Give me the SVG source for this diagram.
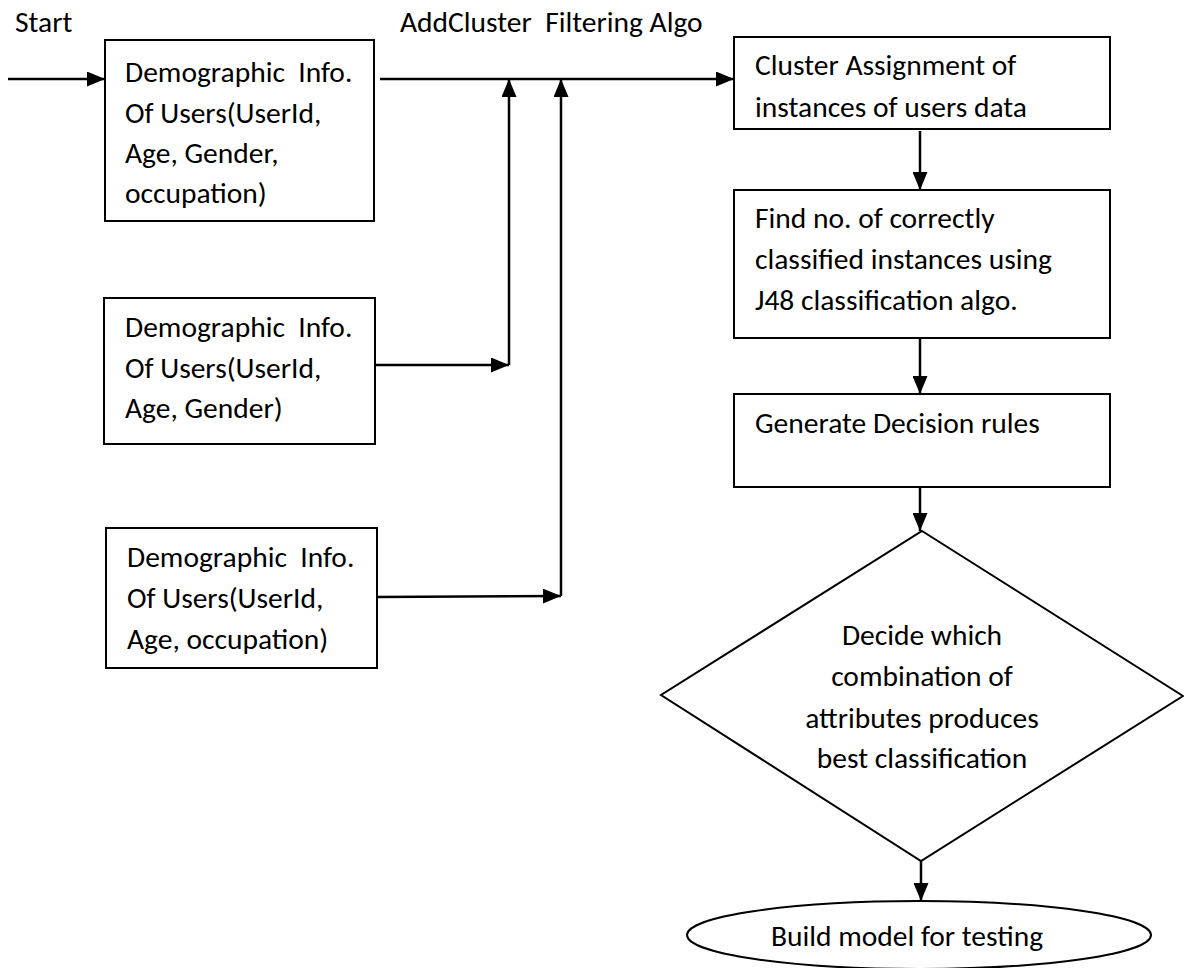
<svg xmlns="http://www.w3.org/2000/svg" width="1184" height="968" viewBox="0 0 1184 968">
<style>
text{font-family:Carlito,Lato,"Open Sans",sans-serif;font-size:29.5px;fill:#000}
.box{fill:#fff;stroke:#000;stroke-width:2}
.c{fill:none;stroke:#000;stroke-width:2.5}
.m{text-anchor:middle}
</style>
<defs>
<marker id="ah" markerUnits="userSpaceOnUse" markerWidth="18" markerHeight="15" refX="18" refY="7.5" orient="auto">
<path d="M0,0 L18,7.5 L0,15 z" fill="#000"/>
</marker>
</defs>
<rect width="1184" height="968" fill="#fff"/>
<text x="15" y="32">Start</text>
<text x="400" y="32" xml:space="preserve">AddCluster  Filtering Algo</text>
<g id="connectors">
<line class="c" x1="8" y1="79" x2="105" y2="79" marker-end="url(#ah)"/>
<line class="c" x1="380" y1="79" x2="734" y2="79" marker-end="url(#ah)"/>
<line class="c" x1="375" y1="365" x2="509" y2="365" marker-end="url(#ah)"/>
<line class="c" x1="509" y1="365" x2="509" y2="79" marker-end="url(#ah)"/>
<line class="c" x1="377" y1="597" x2="561" y2="596" marker-end="url(#ah)"/>
<line class="c" x1="561" y1="596" x2="561" y2="79" marker-end="url(#ah)"/>
<line class="c" x1="920" y1="131" x2="920" y2="190" marker-end="url(#ah)"/>
<line class="c" x1="920" y1="338" x2="920" y2="394" marker-end="url(#ah)"/>
<line class="c" x1="920" y1="487" x2="920" y2="531" marker-end="url(#ah)"/>
<line class="c" x1="921" y1="861" x2="921" y2="901" marker-end="url(#ah)"/>
</g>
<g id="n1">
<rect class="box" x="105" y="40" width="269" height="181"/>
<text xml:space="preserve"><tspan x="125" y="82">Demographic  Info.</tspan><tspan x="125" y="123">Of Users(UserId,</tspan><tspan x="125" y="163">Age, Gender,</tspan><tspan x="125" y="203">occupation)</tspan></text>
</g>
<g id="n2">
<rect class="box" x="104" y="298" width="271" height="146"/>
<text xml:space="preserve"><tspan x="125" y="337">Demographic  Info.</tspan><tspan x="125" y="378">Of Users(UserId,</tspan><tspan x="125" y="418">Age, Gender)</tspan></text>
</g>
<g id="n3">
<rect class="box" x="106" y="528" width="271" height="140"/>
<text xml:space="preserve"><tspan x="127" y="567">Demographic  Info.</tspan><tspan x="127" y="608">Of Users(UserId,</tspan><tspan x="127" y="649">Age, occupation)</tspan></text>
</g>
<g id="n4">
<rect class="box" x="734" y="37" width="376" height="92"/>
<text><tspan x="755" y="75">Cluster Assignment of</tspan><tspan x="755" y="117">instances of users data</tspan></text>
</g>
<g id="n5">
<rect class="box" x="734" y="190" width="376" height="148"/>
<text><tspan x="755" y="228">Find no. of correctly</tspan><tspan x="755" y="269">classified instances using</tspan><tspan x="755" y="310">J48 classification algo.</tspan></text>
</g>
<g id="n6">
<rect class="box" x="734" y="394" width="376" height="93"/>
<text x="755" y="433">Generate Decision rules</text>
</g>
<g id="n7">
<polygon class="box" points="922,531 1183,696 921,861 661,695"/>
<text class="m"><tspan x="922" y="645">Decide which</tspan><tspan x="922" y="686">combination of</tspan><tspan x="922" y="728">attributes produces</tspan><tspan x="922" y="768">best classification</tspan></text>
</g>
<g id="n8">
<ellipse class="box" cx="919" cy="935" rx="232" ry="34"/>
<text class="m" x="907" y="946">Build model for testing</text>
</g>
</svg>
